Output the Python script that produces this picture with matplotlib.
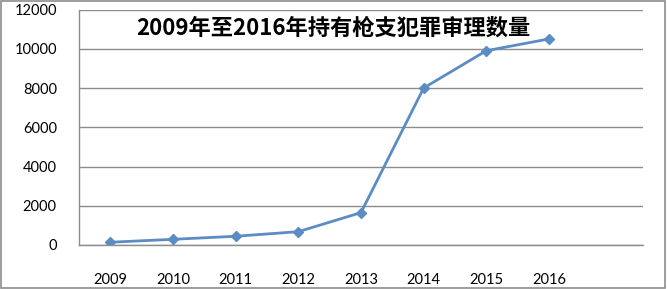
import matplotlib.pyplot as plt
from matplotlib.patches import Rectangle

years = ['2009', '2010', '2011', '2012', '2013', '2014', '2015', '2016']
cases = [140, 290, 445, 680, 1650, 8000, 9900, 10500]
yticks = [0, 2000, 4000, 6000, 8000, 10000, 12000]

plt.rcParams['font.family'] = ['Lato', 'Noto Sans CJK SC', 'DejaVu Sans']

fig = plt.figure(figsize=(6.67, 2.89), dpi=100)
ax = fig.add_axes([79 / 667, 1 - 245 / 289, (643 - 79) / 667, (245 - 9.5) / 289])

x = list(range(len(years)))
ax.plot(x, cases, color='#5b8cc4', lw=2, marker='D', ms=5, mec='#5b8cc4')

ax.set_xlim(-0.5, 8.5)
ax.set_ylim(0, 12000)
ax.set_xticks(x)
ax.set_xticklabels(years)
ax.set_yticks(yticks)
ax.set_yticklabels([str(v) for v in yticks])
ax.tick_params(axis='both', length=0, labelsize=10.5, colors='black')
ax.tick_params(axis='x', pad=20)
ax.tick_params(axis='y', pad=16)
ax.grid(axis='y', color='#8c8c8c', lw=1)
ax.set_axisbelow(True)
for s in ['top', 'right']:
    ax.spines[s].set_visible(False)
for s in ['left', 'bottom']:
    ax.spines[s].set_color('#8c8c8c')
    ax.spines[s].set_linewidth(1)

fig.text(0.5, 1 - 28 / 289, '2009年至2016年持有枪支犯罪审理数量', ha='center', va='center',
         fontsize=16, fontweight='bold', family=['Noto Sans CJK SC', 'DejaVu Sans'])

fig.patches.append(Rectangle((0.002, 0.003), 0.995, 0.994, transform=fig.transFigure,
                             fill=False, ec='#8c8c8c', lw=1.2))

fig.savefig('out.png', dpi=100)
